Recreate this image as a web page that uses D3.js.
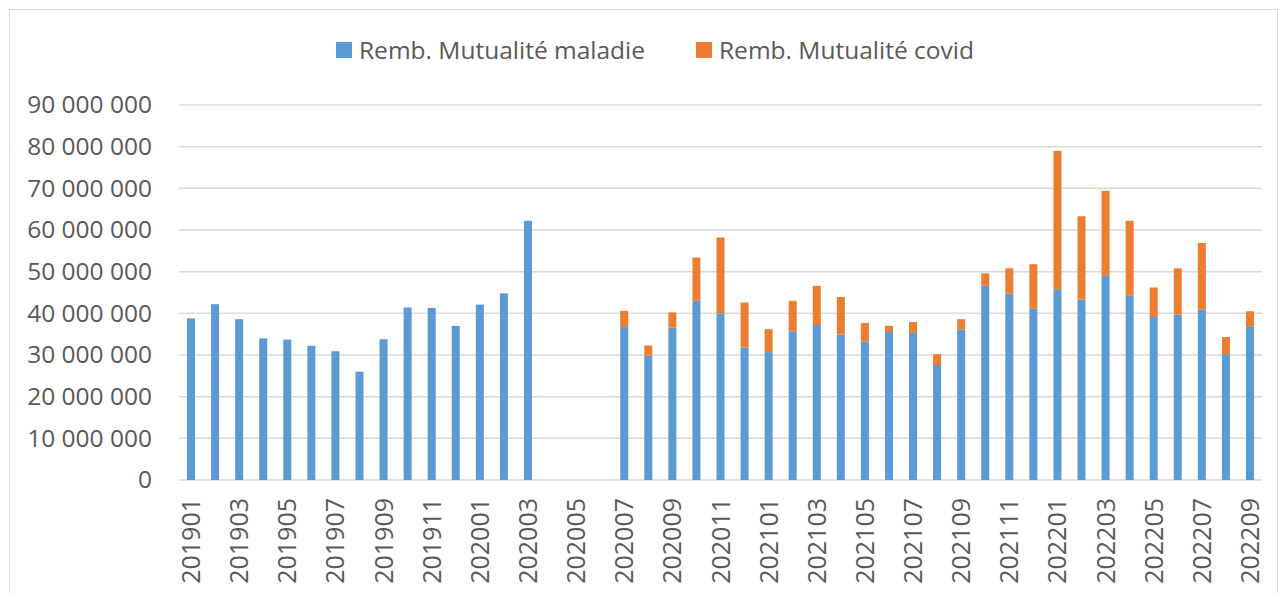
<!DOCTYPE html>
<meta charset="utf-8">
<script src="https://d3js.org/d3.v7.min.js"></script>
<style type="text/css">
body { margin: 0; background: #fff; }
text { font-family: "Open Sans", sans-serif; fill: #595959; }
.grille line { stroke: #d9d9d9; stroke-width: 1.5; }
</style>
<body>
<div id="canvas"></div>
<script>

    // mois de 201901 a 202209
    var mois = ["201901","201902","201903","201904","201905","201906","201907","201908","201909","201910","201911","201912",
        "202001","202002","202003","202004","202005","202006","202007","202008","202009","202010","202011","202012",
        "202101","202102","202103","202104","202105","202106","202107","202108","202109","202110","202111","202112",
        "202201","202202","202203","202204","202205","202206","202207","202208","202209"];

    // Remb. Mutualité maladie (millions)
    var maladie = [38.8,42.2,38.6,34.0,33.7,32.2,30.9,26.0,33.8,41.4,41.3,37.0,
        42.1,44.8,62.2,null,null,null,36.7,29.8,36.6,43.0,40.0,31.8,
        30.7,35.7,37.2,34.9,33.2,35.5,35.3,27.6,36.1,46.6,44.7,41.1,
        45.8,43.3,49.0,44.2,39.1,39.7,40.9,30.2,36.9];

    // Remb. Mutualité covid (millions)
    var covid = [0,0,0,0,0,0,0,0,0,0,0,0,
        0,0,0,null,null,null,3.9,2.5,3.6,10.4,18.2,10.8,
        5.5,7.3,9.4,9.0,4.5,1.5,2.6,2.6,2.5,3.0,6.1,10.7,
        33.2,20.0,20.4,18.0,7.1,11.1,16.0,4.1,3.6];

    var yTicks = [0,10,20,30,40,50,60,70,80,90];
    var series = ["Remb. Mutualité maladie", "Remb. Mutualité covid"];
    var couleurs = ["#5b9bd5", "#ed7d31"];

    var width = 1282;
    var height = 593;

    var svg = d3.select('#canvas')
        .append("svg")
        .attr('width', width)
        .attr('height', height);

    // cadre du graphique
    svg.append("rect")
        .attr("x", 9.5).attr("y", 9.5)
        .attr("width", 1268).attr("height", 600)
        .style("fill", "none")
        .style("stroke", "#d9d9d9");

    var gauche = 179, droite = 1262, haut = 105, bas = 480;

    var x = d3.scaleBand()
        .domain(mois)
        .range([gauche, droite])
        .paddingInner(0.667)
        .paddingOuter(0.333);

    var y = d3.scaleLinear()
        .domain([0, 90])
        .range([bas, haut]);

    // grille horizontale
    svg.append("g")
        .attr("class", "grille")
        .selectAll("line")
        .data(yTicks)
        .enter()
        .append("line")
        .attr("x1", gauche).attr("x2", droite)
        .attr("y1", function(d) { return y(d); })
        .attr("y2", function(d) { return y(d); });

    // axe Y
    var yAxis = d3.axisLeft(y)
        .tickValues(yTicks)
        .tickSize(0)
        .tickPadding(27)
        .tickFormat(function(d) { return d == 0 ? "0" : d + " 000 000"; });

    var gy = svg.append("g")
        .attr("transform", "translate(" + gauche + ",0)")
        .call(yAxis);
    gy.select(".domain").remove();
    gy.selectAll("text")
        .style("font-size", "24.5px")
        .style("font-family", "'Open Sans', sans-serif")
        .attr("fill", "#595959");

    // axe X
    var xAxis = d3.axisBottom(x)
        .tickSize(0)
        .tickFormat(function(d, i) { return i % 2 == 0 ? d : ""; });

    var gx = svg.append("g")
        .attr("transform", "translate(0," + bas + ")")
        .call(xAxis);
    gx.select(".domain").remove();
    gx.selectAll("text")
        .style("font-size", "25px")
        .style("font-family", "'Open Sans', sans-serif")
        .attr("fill", "#595959")
        .attr("transform", "rotate(-90)")
        .attr("text-anchor", "end")
        .attr("x", -18)
        .attr("y", 0)
        .attr("dy", "0.36em");

    // barres empilees
    var data = mois.map(function(m, i) { return { mois: m, maladie: maladie[i], covid: covid[i] }; })
        .filter(function(d) { return d.maladie != null; });

    svg.selectAll(".maladie")
        .data(data)
        .enter()
        .append("rect")
        .attr("x", function(d) { return x(d.mois); })
        .attr("width", x.bandwidth())
        .attr("y", function(d) { return y(d.maladie); })
        .attr("height", function(d) { return y(0) - y(d.maladie); })
        .style("fill", couleurs[0]);

    svg.selectAll(".covid")
        .data(data.filter(function(d) { return d.covid > 0; }))
        .enter()
        .append("rect")
        .attr("x", function(d) { return x(d.mois); })
        .attr("width", x.bandwidth())
        .attr("y", function(d) { return y(d.maladie + d.covid); })
        .attr("height", function(d) { return y(d.maladie) - y(d.maladie + d.covid); })
        .style("fill", couleurs[1]);

    // legende
    var legX = [336, 696];
    var leg = svg.selectAll(".leg")
        .data(series)
        .enter()
        .append("g")
        .attr("transform", function(d, i) { return "translate(" + legX[i] + ",42)"; });
    leg.append("rect")
        .attr("width", 16).attr("height", 16)
        .style("fill", function(d, i) { return couleurs[i]; });
    leg.append("text")
        .attr("x", 23)
        .attr("y", 8)
        .attr("dy", "0.36em")
        .style("font-size", "24.5px")
        .text(function(d) { return d; });
</script>
</body>
